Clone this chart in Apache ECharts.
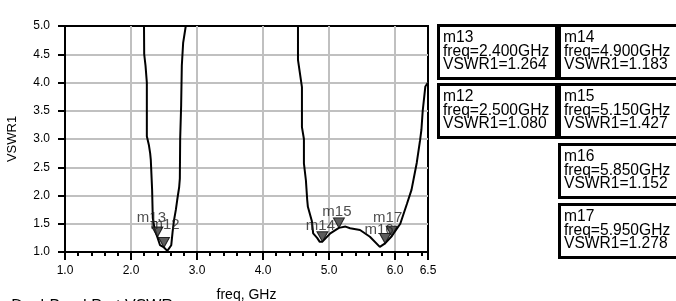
<!DOCTYPE html>
<html>
<head>
<meta charset="utf-8">
<script src="https://cdn.jsdelivr.net/npm/echarts@6/dist/echarts.min.js"></script>
<style>
  html, body { margin: 0; padding: 0; background: #fff; }
  #chart { width: 676px; height: 301px; }
</style>
</head>
<body>
<div id="chart"></div>
<script>
// VSWR1 trace (values above 5.0 are clipped by the axis)
const freqGHz = [
  2.15, 2.197, 2.20, 2.22, 2.24, 2.24, 2.24, 2.27, 2.29, 2.30, 2.32, 2.33, 2.36, 2.40, 2.44, 2.50, 2.55, 2.58,
  2.61, 2.63, 2.65, 2.68, 2.70, 2.73, 2.74, 2.745, 2.76, 2.77, 2.79, 2.83, 2.87,
  4.48, 4.53, 4.53, 4.59, 4.59, 4.62, 4.62, 4.65, 4.67, 4.68, 4.74, 4.76, 4.82, 4.86, 4.90,
  5.02, 5.15, 5.25, 5.32, 5.47, 5.62, 5.77, 5.85, 5.95, 6.08, 6.18, 6.25, 6.33, 6.38, 6.40, 6.42, 6.46, 6.50
];
const vswr1 = [
  6.0, 5.0, 4.5, 4.3, 4.0, 3.5, 3.05, 2.9, 2.75, 2.63, 2.1, 1.6, 1.4, 1.264, 1.12, 1.08, 1.02, 1.04,
  1.12, 1.35, 1.55, 1.75, 1.92, 2.15, 2.3, 3.0, 3.6, 4.3, 4.7, 5.0, 6.0,
  6.0, 5.0, 4.4, 3.92, 3.21, 3.0, 2.57, 2.27, 1.92, 1.8, 1.55, 1.33, 1.25, 1.18, 1.183,
  1.33, 1.427, 1.45, 1.42, 1.39, 1.27, 1.09, 1.152, 1.278, 1.5, 1.85, 2.1, 2.58, 2.98, 3.16, 3.5, 3.93, 4.0
];

// markers
const markerNames = ['m13', 'm12', 'm14', 'm15', 'm16', 'm17'];
const markerFreq = [2.4, 2.5, 4.9, 5.15, 5.85, 5.95];
const markerVswr = [1.264, 1.080, 1.183, 1.427, 1.152, 1.278];

// label nudges and readout boxes (layout only)
const labelOffsets = [[-6, -19], [1, -23], [-2, -16], [-2, -16], [-6, -14], [-4, -18]];
const boxPos = [[437, 24], [437, 83], [558, 24], [558, 83], [558, 143], [558, 203]];

const tickFont = 'Liberation Sans, Arial, sans-serif';
const chart = echarts.init(document.getElementById('chart'));

const traceData = freqGHz.map((f, i) => [f, vswr1[i]]);
const markerData = markerFreq.map((f, i) => ({ name: markerNames[i], value: [f, markerVswr[i]] }));

const boxes = [];
markerNames.forEach((n, i) => {
  const [bx, by] = boxPos[i];
  boxes.push({
    type: 'rect', shape: { x: bx + 1.5, y: by + 1.5, width: 118, height: 53 },
    style: { fill: '#fff', stroke: '#000', lineWidth: 3 }, z: 10
  });
  const lines = [n, 'freq=' + markerFreq[i].toFixed(3) + 'GHz', 'VSWR1=' + markerVswr[i].toFixed(3)];
  lines.forEach((t, k) => {
    boxes.push({
      type: 'text', x: bx + 6, y: by + 14 + k * 13.5, z: 11,
      style: { text: t, font: '15.6px ' + tickFont, fill: '#000', verticalAlign: 'middle', align: 'left' }
    });
  });
});
boxes.push({
  type: 'text', x: 173, y: 299, z: 11,
  style: { text: 'Dual-Band Port VSWR', font: '16px ' + tickFont, fill: '#000', verticalAlign: 'top', align: 'right' }
});

const option = {
  animation: false,
  backgroundColor: '#fff',
  grid: {
    left: 65, right: 248, top: 26, bottom: 49, outerBoundsMode: 'none', containLabel: false,
    show: true, borderColor: '#000', borderWidth: 2, backgroundColor: 'transparent'
  },
  xAxis: [
    {
      type: 'value', min: 1, max: 6.5, interval: 1,
      name: 'freq, GHz', nameLocation: 'middle', nameGap: 36,
      nameTextStyle: { fontFamily: tickFont, fontSize: 14, color: '#000' },
      axisLine: { show: true, onZero: false, lineStyle: { color: '#000', width: 2 } },
      axisTick: { show: true, length: 8, lineStyle: { color: '#000', width: 2 } },
      axisLabel: { show: true, margin: 13, fontFamily: tickFont, fontSize: 12, color: '#000', showMaxLabel: true,
        formatter: v => v.toFixed(1) },
      splitLine: { show: true, showMinLine: false, showMaxLine: false, lineStyle: { color: '#c0c0c0', width: 2 } }
    },
    {
      type: 'value', min: 1, max: 6.5, interval: 0.2, position: 'bottom',
      axisLine: { show: false, onZero: false },
      axisTick: { show: true, length: 4, lineStyle: { color: '#000', width: 2 } },
      axisLabel: { show: false },
      splitLine: { show: false }
    }
  ],
  yAxis: {
    type: 'value', min: 1, max: 5, interval: 0.5,
    name: 'VSWR1', nameLocation: 'middle', nameGap: 46,
    nameTextStyle: { fontFamily: tickFont, fontSize: 13, color: '#000' },
    axisLine: { show: true, onZero: false, lineStyle: { color: '#000', width: 2 } },
    axisTick: { show: true, length: 7, lineStyle: { color: '#000', width: 2 } },
    axisLabel: { show: true, margin: 15, fontFamily: tickFont, fontSize: 12, color: '#000', formatter: v => v.toFixed(1) },
    splitLine: { show: true, showMinLine: false, showMaxLine: false, lineStyle: { color: '#c0c0c0', width: 2 } }
  },
  series: [
    {
      type: 'line', xAxisIndex: 0, data: traceData, showSymbol: false, clip: true,
      lineStyle: { color: '#000', width: 2 }, z: 3
    },
    {
      type: 'scatter', xAxisIndex: 0, data: markerData,
      symbol: 'triangle', symbolRotate: 180, symbolSize: [11, 10], symbolOffset: [0, -5],
      itemStyle: { color: '#333', borderColor: '#000', borderWidth: 1 }, z: 4
    },
    {
      type: 'scatter', xAxisIndex: 0,
      data: markerData.map((d, i) => ({ ...d, label: { offset: labelOffsets[i] } })),
      symbolSize: 1, itemStyle: { color: 'rgba(0,0,0,0)' }, z: 5,
      label: { show: true, position: 'inside', formatter: p => p.name, fontFamily: tickFont, fontSize: 15, color: '#222' }
    }
  ],
  graphic: boxes
};

chart.setOption(option);
</script>
</body>
</html>
